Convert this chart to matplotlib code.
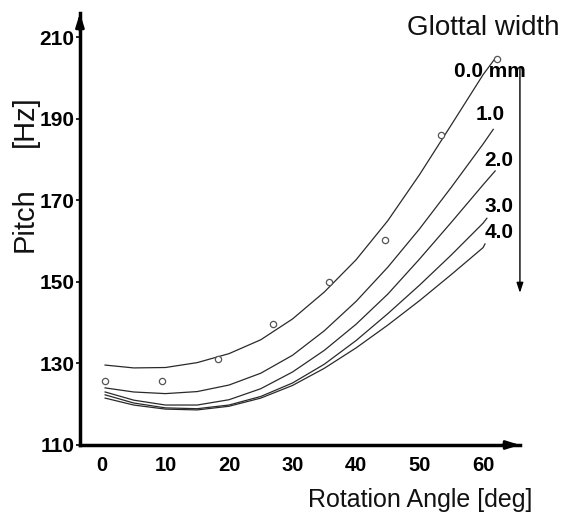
import matplotlib
matplotlib.use("Agg")
import matplotlib.pyplot as plt

plt.rcParams['font.family'] = ['Liberation Sans', 'DejaVu Sans']

# measured points (circles)
meas_angle = [0.5, 9.5, 18.3, 27.0, 35.7, 44.6, 53.4, 62.2]
meas_pitch = [125.7, 125.7, 131.1, 139.7, 150.0, 160.2, 186.0, 204.6]

# simulated curves, one per glottal width
angles = [0.5, 5, 10, 15, 20, 25, 30, 35, 40, 45, 50, 55, 60]
w00 = [129.6, 128.9, 129.0, 130.2, 132.4, 135.8, 140.9, 147.5, 155.4, 165.0, 176.3, 188.5, 200.8]
w10 = [124.0, 123.0, 122.6, 123.1, 124.7, 127.6, 132.0, 138.0, 145.2, 153.6, 163.0, 173.2, 183.8]
w20 = [123.0, 121.0, 119.8, 119.8, 121.1, 123.8, 127.9, 133.2, 139.6, 147.0, 155.6, 164.6, 173.8]
w30 = [122.3, 120.3, 119.1, 118.9, 119.8, 121.9, 125.2, 129.8, 135.6, 142.2, 149.2, 156.6, 164.4]
w40 = [121.5, 119.8, 118.8, 118.6, 119.5, 121.5, 124.6, 128.8, 133.8, 139.4, 145.4, 151.8, 158.4]
# last point of each curve (curves end at slightly different angles)
end_angle = [62.0, 61.6, 61.9, 60.6, 60.3]
end_pitch = [205.0, 187.4, 177.2, 165.6, 159.3]

width_labels = ['0.0 mm', '1.0', '2.0', '3.0', '4.0']
label_pos = [(55.4, 201.5), (58.9, 191.0), (60.2, 179.7), (60.2, 168.4), (60.3, 162.0)]

xticks = [0, 10, 20, 30, 40, 50, 60]
yticks = [110, 130, 150, 170, 190, 210]

fig = plt.figure(figsize=(5.63, 5.16), dpi=100)
ax = fig.add_axes([0.142, 0.1376, 0.7815, 0.837])

curves = [w00, w10, w20, w30, w40]
for i, c in enumerate(curves):
    ax.plot(angles + [end_angle[i]], c + [end_pitch[i]], color='#2a2a2a', lw=0.9)

ax.plot(meas_angle, meas_pitch, 'o', ms=4.5, mfc='white', mec='#555555', mew=0.9)

for lab, (x, y) in zip(width_labels, label_pos):
    ax.text(x, y, lab, fontsize=15, fontweight='bold', ha='left', va='center')

ax.set_xlim(-3.46, 65.8)
ax.set_ylim(110, 215.9)
ax.set_xticks(xticks)
ax.set_yticks(yticks)
ax.tick_params(axis='x', length=0, pad=8, labelsize=14.5)
ax.tick_params(axis='y', length=3, width=1.2, pad=1, labelsize=15)
for t in ax.get_xticklabels() + ax.get_yticklabels():
    t.set_fontweight('bold')

for s in ['top', 'right']:
    ax.spines[s].set_visible(False)
for s in ['left', 'bottom']:
    ax.spines[s].set_linewidth(2.5)

# arrow heads on axes
ax.annotate('', xy=(0, 1), xytext=(0, 0.96), xycoords='axes fraction',
            arrowprops=dict(arrowstyle='-|>,head_width=0.25,head_length=0.8',
                            color='k', lw=2, shrinkA=0, shrinkB=0))
ax.annotate('', xy=(1, 0), xytext=(0.96, 0), xycoords='axes fraction',
            arrowprops=dict(arrowstyle='-|>,head_width=0.25,head_length=0.8',
                            color='k', lw=2, shrinkA=0, shrinkB=0))

# downward arrow next to the width labels
ax.annotate('', xy=(65.8, 147.3), xytext=(65.8, 202.6),
            arrowprops=dict(arrowstyle='-|>,head_width=0.2,head_length=0.6',
                            color='k', lw=1, shrinkA=0, shrinkB=0),
            annotation_clip=False)

fig.text(0.859, 0.946, 'Glottal width', fontsize=20, color='#111111',
         ha='center', va='center')
fig.text(0.746, 0.031, 'Rotation Angle [deg]', fontsize=18, color='#111111',
         ha='center', va='center')
fig.text(0.044, 0.574, 'Pitch', fontsize=21, color='#111111', rotation=90,
         ha='center', va='center')
fig.text(0.044, 0.766, '[Hz]', fontsize=21, color='#111111', rotation=90,
         ha='center', va='center')

fig.savefig('out.png', dpi=100)
